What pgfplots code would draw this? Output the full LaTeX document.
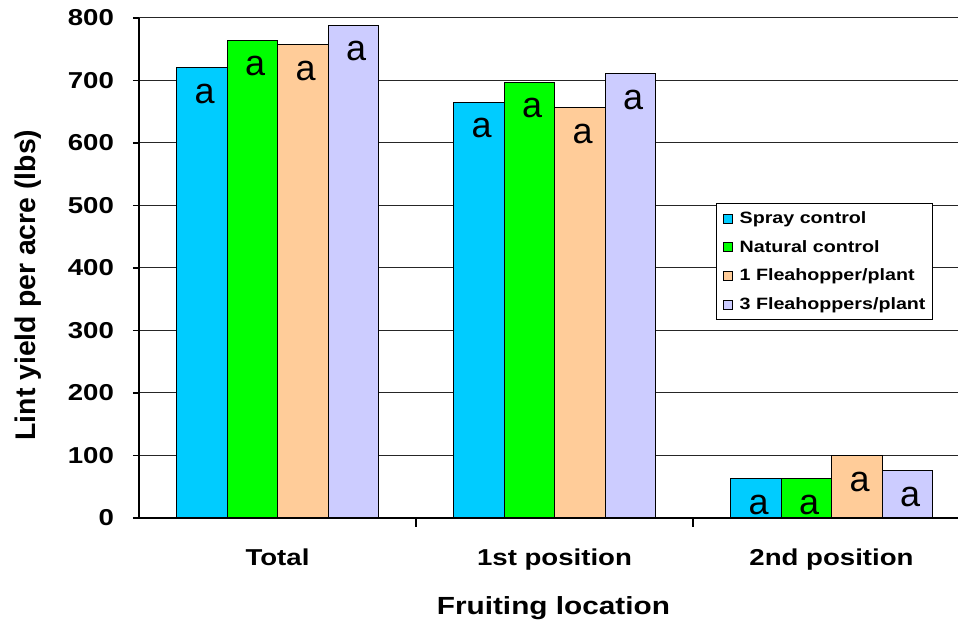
\documentclass[border=0pt]{standalone}
\usepackage{fontspec}
\setmainfont{Liberation Sans}[FakeStretch=1.2]
\newfontfamily\plainfont{Liberation Sans}
\usepackage{pgfplots}
\pgfplotsset{compat=1.18}

\definecolor{spray}{HTML}{00CCFF}
\definecolor{natural}{HTML}{00FF00}
\definecolor{oneFH}{HTML}{FFCC99}
\definecolor{threeFH}{HTML}{CCCCFF}

\pgfplotsset{
  sqlegend/.style={legend image code/.code={%
      \draw[##1, draw=black, line width=0.4pt] (0pt,-2.25pt) rectangle (4.5pt,2.25pt);}},
}

\begin{document}
\begin{tikzpicture}
\begin{axis}[
  at={(0,0)}, anchor=south west,
  scale only axis, width=409.5pt, height=250pt,
  xmin=-0.5, xmax=2.4567,
  ymin=0, ymax=800,
  ytick={0,100,...,800},
  xtick={0,1,2},
  xticklabels={Total, 1st position, 2nd position},
  minor xtick={0.5,1.5},
  major x tick style={draw=none},
  axis x line*=bottom, axis y line*=left,
  axis line style={line width=1pt, black},
  tick align=outside,
  major tick length=3pt, minor tick length=4.5pt,
  tick style={line width=0.6pt, black},
  ymajorgrids,
  grid style={black!85, line width=0.5pt},
  /pgf/number format/assume math mode=true,
  ticklabel style={font=\bfseries\fontsize{11.5}{13}\selectfont},
  yticklabel style={xshift=-6pt},
  xticklabel style={yshift=-9pt},
  xlabel={Fruiting location},
  ylabel={Lint yield per acre (lbs)},
  xlabel style={font=\bfseries\fontsize{12.4}{14}\selectfont,
    at={(axis description cs:0.506,-0.18)}, anchor=center},
  ylabel style={font=\plainfont\bfseries\fontsize{14.2}{16}\selectfont,
    at={(axis description cs:-0.1355,0.466)}, anchor=center},
  ybar=0pt, bar width=25.25pt,
  nodes near coords={a},
  every node near coord/.append style={font=\plainfont\fontsize{18}{20}\selectfont,
    anchor=center, inner sep=0pt, yshift=-13pt, xshift=1.5pt, text=black},
  legend style={at={(axis description cs:0.9695,0.63)}, anchor=north east,
    draw=black, line width=0.5pt, fill=white,
    font=\bfseries\fontsize{8.2}{10}\selectfont,
    inner xsep=3.5pt, inner ysep=3.5pt, row sep=6.35pt, column sep=3.2pt,
    nodes={inner sep=0pt, text height=6.5pt, text depth=1.5pt, anchor=west},
    legend cell align=left},
  every axis plot/.append style={draw=black, line width=0.5pt, sqlegend},
]
% lint yield per acre, lbs: Total, 1st position, 2nd position
\addplot[fill=spray]   coordinates {(0,720) (1,665) (2,63)};
\addplot[fill=natural] coordinates {(0,764) (1,697) (2,63)};
\addplot[fill=oneFH]   coordinates {(0,757) (1,656) (2,100)};
\addplot[fill=threeFH] coordinates {(0,788) (1,711) (2,76)};
\legend{Spray control, Natural control, 1 Fleahopper/plant, 3 Fleahoppers/plant}
\end{axis}
\pgfresetboundingbox
\path (-69.5pt,-53pt) rectangle (409.5pt,259pt);
\end{tikzpicture}
\end{document}
